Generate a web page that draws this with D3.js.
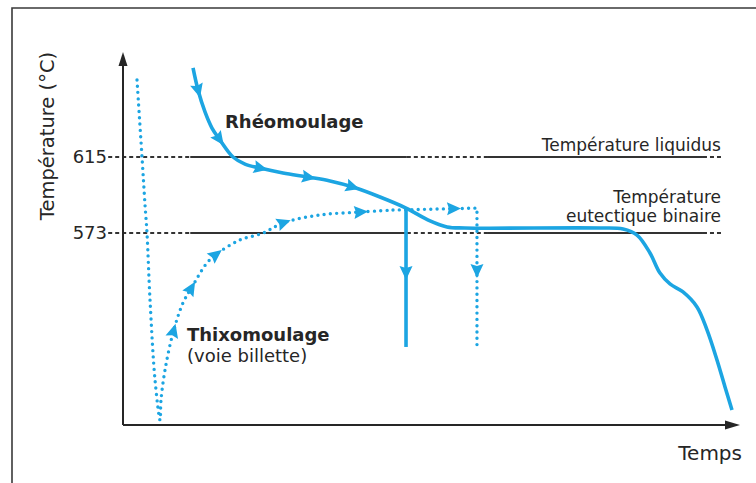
<!DOCTYPE html>
<html>
<head>
<meta charset="utf-8">
<script src="https://cdn.jsdelivr.net/npm/d3@7"></script>
<style>
  body { margin: 0; background: #fff; }
  svg { display: block; font-family: "DejaVu Sans", sans-serif; }
</style>
</head>
<body>
<svg id="chart"></svg>
<script>
const width = 756;
const height = 483;
const blue = '#1ca5e2';
const ink = '#262626';

const tempTicks = [573, 615];
const liquidus = 615;
const eutectic = 573;
// tronçons des lignes de référence : tirets / plein en alternance
const refBreaks = [-2.4, 10.9, 46.0, 59.0, 94.0, 97.2];

// Rhéomoulage (trait plein)
const rheoTime = [11.35, 12.16, 13.29, 14.42, 15.72, 17.83, 19.77, 22.2, 25.93, 29.82, 33.55, 37.28, 41.65, 45.87, 49.76, 52.51, 55.43, 77.31, 81.04, 83.31, 85.41, 87.03, 88.65, 90.76, 93.03, 94.65, 96.27, 97.57, 98.7];
const rheoTemp = [664.2, 652.0, 639.9, 631.0, 624.4, 615.0, 611.1, 608.9, 606.2, 604.0, 601.8, 598.4, 592.9, 586.8, 579.7, 576.4, 575.8, 575.8, 575.2, 571.9, 562.0, 550.9, 544.9, 540.5, 532.2, 519.5, 502.9, 488.0, 475.3];
const dropTime = [45.87, 45.87];
const dropTemp = [586.8, 510.1];

// Thixomoulage (pointillés)
const thixoTime = [2.27, 3.08, 3.57, 3.89, 4.38, 5.19, 6.0, 6.16, 6.81, 8.1, 9.72, 11.18, 13.61, 15.4, 18.96, 22.69, 25.93, 31.93, 38.41, 43.76];
const thixoTemp = [657.5, 615.0, 588.5, 573.0, 536.0, 491.9, 469.8, 480.8, 497.4, 517.8, 534.4, 543.2, 556.5, 562.0, 569.2, 573.0, 578.6, 583.0, 584.6, 585.7];
const thixoEndTime = [43.76, 57.37, 57.37];
const thixoEndTemp = [585.7, 586.8, 511.2];

// flèches de sens de parcours
const rheoArrows = [[12.16, 652.0], [15.72, 625.5], [22.2, 608.9], [29.98, 604.0], [37.12, 599.0]];
const dropArrows = [[45.87, 551.5]];
const thixoArrows = [[8.27, 518.4], [11.35, 541.6], [15.4, 559.2], [25.93, 578.6], [38.41, 584.6]];
const thixoEndArrows = [[53.48, 586.8], [57.37, 552.6]];

const x = d3.scaleLinear().domain([0, 100]).range([123, 740]);
const y = d3.scaleLinear().domain([467, 673]).range([425, 52]);

const svg = d3.select('#chart')
    .attr('width', width)
    .attr('height', height);

// cadre
svg.append('path')
    .attr('d', `M12,${height}V8H${width}`)
    .attr('fill', 'none')
    .attr('stroke', '#3a3a3a')
    .attr('stroke-width', 1.6);

// lignes liquidus / eutectique
[liquidus, eutectic].forEach(T => {
    for (let i = 0; i < refBreaks.length - 1; i++) {
        svg.append('line')
            .attr('x1', x(refBreaks[i]))
            .attr('x2', x(refBreaks[i + 1]))
            .attr('y1', y(T))
            .attr('y2', y(T))
            .attr('stroke', '#333')
            .attr('stroke-width', 2)
            .attr('stroke-dasharray', i % 2 === 0 ? '4,3' : null);
    }
});

// axes
svg.append('g')
    .attr('transform', `translate(${x(0)},0)`)
    .call(d3.axisLeft(y).tickValues(tempTicks).tickSize(0).tickPadding(16))
    .call(g => g.select('.domain').remove())
    .call(g => g.selectAll('text')
        .attr('font-family', '"DejaVu Sans", sans-serif')
        .attr('font-size', 18)
        .attr('fill', ink));

const axisLine = d3.line();
svg.append('path')
    .attr('d', axisLine([[x(0), y(467)], [x(0), y(673) + 10]]))
    .attr('stroke', ink).attr('stroke-width', 2).attr('fill', 'none');
svg.append('path')
    .attr('d', axisLine([[x(0), y(467)], [x(100) - 10, y(467)]]))
    .attr('stroke', ink).attr('stroke-width', 2).attr('fill', 'none');
svg.append('path')
    .attr('d', `M${x(0)},${y(673)}l-4.5,14h9Z`)
    .attr('fill', ink);
svg.append('path')
    .attr('d', `M${x(100)},${y(467)}l-15,-4.5v9Z`)
    .attr('fill', ink);

// courbes
const curve = d3.line()
    .x(d => x(d[0]))
    .y(d => y(d[1]))
    .curve(d3.curveCatmullRom.alpha(0.5));
const straight = d3.line()
    .x(d => x(d[0]))
    .y(d => y(d[1]));

const zip = (a, b) => a.map((v, i) => [v, b[i]]);

const rheo = svg.append('path')
    .attr('d', curve(zip(rheoTime, rheoTemp)))
    .attr('fill', 'none').attr('stroke', blue).attr('stroke-width', 3.6);
const drop = svg.append('path')
    .attr('d', straight(zip(dropTime, dropTemp)))
    .attr('fill', 'none').attr('stroke', blue).attr('stroke-width', 3.6);
const thixo = svg.append('path')
    .attr('d', curve(zip(thixoTime, thixoTemp)))
    .attr('fill', 'none').attr('stroke', blue).attr('stroke-width', 3.4)
    .attr('stroke-linecap', 'round').attr('stroke-dasharray', '0,6.3');
const thixoEnd = svg.append('path')
    .attr('d', straight(zip(thixoEndTime, thixoEndTemp)))
    .attr('fill', 'none').attr('stroke', blue).attr('stroke-width', 3.4)
    .attr('stroke-linecap', 'round').attr('stroke-dasharray', '0,6.3');

function placeArrows(sel, pts) {
    const node = sel.node();
    const L = node.getTotalLength();
    pts.forEach(([t, T]) => {
        const px = x(t), py = y(T);
        let best = 0, bd = Infinity;
        for (let l = 0; l <= L; l += 0.5) {
            const p = node.getPointAtLength(l);
            const d = (p.x - px) ** 2 + (p.y - py) ** 2;
            if (d < bd) { bd = d; best = l; }
        }
        const p0 = node.getPointAtLength(Math.max(0, best - 2));
        const p1 = node.getPointAtLength(Math.min(L, best + 2));
        const ang = Math.atan2(p1.y - p0.y, p1.x - p0.x) * 180 / Math.PI;
        const c = node.getPointAtLength(best);
        svg.append('path')
            .attr('d', 'M8,0L-6,-6.5L-4,0L-6,6.5Z')
            .attr('transform', `translate(${c.x},${c.y}) rotate(${ang})`)
            .attr('fill', blue);
    });
}
placeArrows(rheo, rheoArrows);
placeArrows(drop, dropArrows);
placeArrows(thixo, thixoArrows);
placeArrows(thixoEnd, thixoEndArrows);

// textes
svg.append('text')
    .attr('transform', 'translate(54,136) rotate(-90)')
    .attr('text-anchor', 'middle')
    .attr('font-size', 19.5)
    .attr('fill', ink)
    .text('Température (°C)');

svg.append('text')
    .attr('x', 742).attr('y', 460)
    .attr('text-anchor', 'end')
    .attr('font-size', 20)
    .attr('fill', ink)
    .text('Temps');

svg.append('text')
    .attr('x', x(16.53)).attr('y', y(631.0))
    .attr('font-size', 18).attr('font-weight', 'bold')
    .attr('fill', ink)
    .text('Rhéomoulage');

svg.append('text')
    .attr('x', x(10.37)).attr('y', y(513.4))
    .attr('font-size', 18).attr('font-weight', 'bold')
    .attr('fill', ink)
    .text('Thixomoulage');

svg.append('text')
    .attr('x', x(10.37)).attr('y', y(501.8))
    .attr('font-size', 18)
    .attr('fill', ink)
    .text('(voie billette)');

const rightLabels = [
    ['Température liquidus', 618.3],
    ['Température', 589.6],
    ['eutectique binaire', 579.1]
];
rightLabels.forEach(([txt, T]) => {
    svg.append('text')
        .attr('x', x(96.92)).attr('y', y(T))
        .attr('text-anchor', 'end')
        .attr('font-size', 17)
        .attr('fill', ink)
        .text(txt);
});
</script>
</body>
</html>
